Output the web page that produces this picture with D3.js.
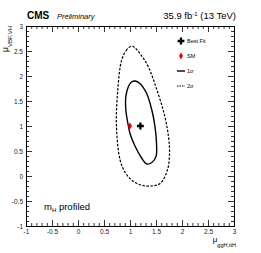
<!DOCTYPE html>
<html>
<head>
<meta charset="utf-8">
<script src="https://cdn.jsdelivr.net/npm/d3@7"></script>
<style>
  body { margin: 0; background: #fff; }
  svg { font-family: "Liberation Sans", Arial, sans-serif; }
</style>
</head>
<body>
<div id="chart"></div>
<script>
// Contour points (mu_ggH,ttH , mu_VBF,VH)
const oneSigma = [
  [1.10, 1.90], [1.19, 1.85], [1.32, 1.65], [1.42, 1.32], [1.48, 0.99],
  [1.51, 0.65], [1.50, 0.39], [1.42, 0.27], [1.32, 0.24], [1.23, 0.35],
  [1.10, 0.59], [1.00, 0.85], [0.96, 1.05], [0.92, 1.32], [0.92, 1.59],
  [0.97, 1.79], [1.03, 1.88]
];
const twoSigma = [
  [1.01, 2.59], [0.94, 2.53], [0.84, 2.32], [0.76, 1.65], [0.74, 0.99],
  [0.81, 0.32], [0.92, 0.05], [1.08, -0.12], [1.25, -0.19], [1.42, -0.20],
  [1.58, -0.15], [1.72, 0.12], [1.76, 0.45], [1.74, 0.79], [1.67, 1.19],
  [1.54, 1.65], [1.35, 2.19], [1.19, 2.45], [1.06, 2.59]
];
const bestFit = [1.2, 1.0];
const smPoint = [1.0, 1.0];
const majorTicks = [-1, -0.5, 0, 0.5, 1, 1.5, 2, 2.5, 3];
const legendLabels = ["Best Fit", "SM", "1σ", "2σ"];

const W = 261, H = 253;
const mLeft = 26, mRight = 234, mTop = 26, mBottom = 226;

const svg = d3.select("#chart").append("svg")
  .attr("width", W).attr("height", H);

const x = d3.scaleLinear().domain([-1, 3]).range([mLeft, mRight]);
const y = d3.scaleLinear().domain([-1, 3]).range([mBottom, mTop]);

const minorTicks = d3.range(-10, 31).map(d => d / 10)
  .filter(d => !majorTicks.some(m => Math.abs(m - d) < 1e-9));

// axes with inward ticks on all four sides
function drawAxis(axisGen, tx, ty, labels) {
  const g = svg.append("g")
    .attr("transform", "translate(" + tx + "," + ty + ")")
    .call(axisGen);
  g.select(".domain").attr("stroke", "#000").attr("stroke-width", 1);
  g.selectAll(".tick line").attr("stroke", "#000").attr("stroke-width", 0.8);
  g.selectAll(".tick text")
    .attr("fill", "#222")
    .style("font-size", "6.5px");
  if (!labels) g.selectAll(".tick text").remove();
  return g;
}
const fmt = d => d;
drawAxis(d3.axisBottom(x).tickValues(majorTicks).tickSizeInner(-6).tickSizeOuter(0).tickPadding(3).tickFormat(fmt), 0, mBottom, true);
drawAxis(d3.axisBottom(x).tickValues(minorTicks).tickSizeInner(-3).tickSizeOuter(0), 0, mBottom, false);
drawAxis(d3.axisTop(x).tickValues(majorTicks).tickSizeInner(-6).tickSizeOuter(0), 0, mTop, false);
drawAxis(d3.axisTop(x).tickValues(minorTicks).tickSizeInner(-3).tickSizeOuter(0), 0, mTop, false);
drawAxis(d3.axisLeft(y).tickValues(majorTicks).tickSizeInner(-6).tickSizeOuter(0).tickPadding(3).tickFormat(fmt), mLeft, 0, true);
drawAxis(d3.axisLeft(y).tickValues(minorTicks).tickSizeInner(-3).tickSizeOuter(0), mLeft, 0, false);
drawAxis(d3.axisRight(y).tickValues(majorTicks).tickSizeInner(-6).tickSizeOuter(0), mRight, 0, false);
drawAxis(d3.axisRight(y).tickValues(minorTicks).tickSizeInner(-3).tickSizeOuter(0), mRight, 0, false);

// contours
const contour = d3.line()
  .x(d => x(d[0]))
  .y(d => y(d[1]))
  .curve(d3.curveCatmullRomClosed);

svg.append("path")
  .attr("d", contour(twoSigma))
  .attr("fill", "none")
  .attr("stroke", "#000")
  .attr("stroke-width", 1.2)
  .attr("stroke-dasharray", "2.5,1.5");

svg.append("path")
  .attr("d", contour(oneSigma))
  .attr("fill", "none")
  .attr("stroke", "#000")
  .attr("stroke-width", 1.4);

// points
svg.append("path")
  .attr("d", d3.symbol().type(d3.symbolCross).size(26)())
  .attr("transform", "translate(" + x(bestFit[0]) + "," + y(bestFit[1]) + ")")
  .attr("fill", "#000");

svg.append("path")
  .attr("d", d3.symbol().type(d3.symbolDiamond).size(14)())
  .attr("transform", "translate(" + x(smPoint[0]) + "," + y(smPoint[1]) + ")")
  .attr("fill", "#e8000b");

// legend
const legX = 181, legY0 = 41, legStep = 15;
const leg = svg.append("g");
leg.append("path")
  .attr("d", d3.symbol().type(d3.symbolCross).size(26)())
  .attr("transform", "translate(" + legX + "," + legY0 + ")")
  .attr("fill", "#000");
leg.append("path")
  .attr("d", d3.symbol().type(d3.symbolDiamond).size(14)())
  .attr("transform", "translate(" + legX + "," + (legY0 + legStep) + ")")
  .attr("fill", "#e8000b");
leg.append("line")
  .attr("x1", legX - 4).attr("x2", legX + 4)
  .attr("y1", legY0 + 2 * legStep).attr("y2", legY0 + 2 * legStep)
  .attr("stroke", "#000").attr("stroke-width", 1.4);
leg.append("line")
  .attr("x1", legX - 4).attr("x2", legX + 4)
  .attr("y1", legY0 + 3 * legStep).attr("y2", legY0 + 3 * legStep)
  .attr("stroke", "#000").attr("stroke-width", 1.2)
  .attr("stroke-dasharray", "1.5,1");
leg.selectAll("text")
  .data(legendLabels)
  .enter().append("text")
  .attr("x", legX + 6)
  .attr("y", (d, i) => legY0 + i * legStep + 2)
  .style("font-size", "5.5px")
  .attr("fill", "#000")
  .text(d => d);

// header texts
svg.append("text")
  .attr("x", 27).attr("y", 19)
  .style("font-size", "10px").style("font-weight", "bold")
  .text("CMS");
svg.append("text")
  .attr("x", 57).attr("y", 19)
  .style("font-size", "7.5px").style("font-style", "italic")
  .text("Preliminary");
const lumi = svg.append("text")
  .attr("x", 236).attr("y", 19)
  .attr("text-anchor", "end")
  .style("font-size", "9.5px");
lumi.append("tspan").text("35.9 fb");
lumi.append("tspan").attr("dy", -3.5).style("font-size", "6px").text("-1");
lumi.append("tspan").attr("dy", 3.5).text(" (13 TeV)");

// axis titles
const xt = svg.append("text")
  .attr("x", 236).attr("y", 242)
  .attr("text-anchor", "end")
  .style("font-size", "8px");
xt.append("tspan").text("μ");
xt.append("tspan").attr("dy", 5).style("font-size", "5.5px").text("ggH,ttH");

const yt = svg.append("text")
  .attr("transform", "translate(8," + mTop + ") rotate(-90)")
  .attr("text-anchor", "end")
  .style("font-size", "8.5px");
yt.append("tspan").text("μ");
yt.append("tspan").attr("dy", 4).style("font-size", "6px").text("VBF,VH");

// m_H profiled
const mh = svg.append("text")
  .attr("x", 44).attr("y", 209.5)
  .style("font-size", "9.5px");
mh.append("tspan").text("m");
mh.append("tspan").attr("dy", 2.5).style("font-size", "6px").text("H");
mh.append("tspan").attr("dy", -2.5).text(" profiled");
</script>
</body>
</html>
